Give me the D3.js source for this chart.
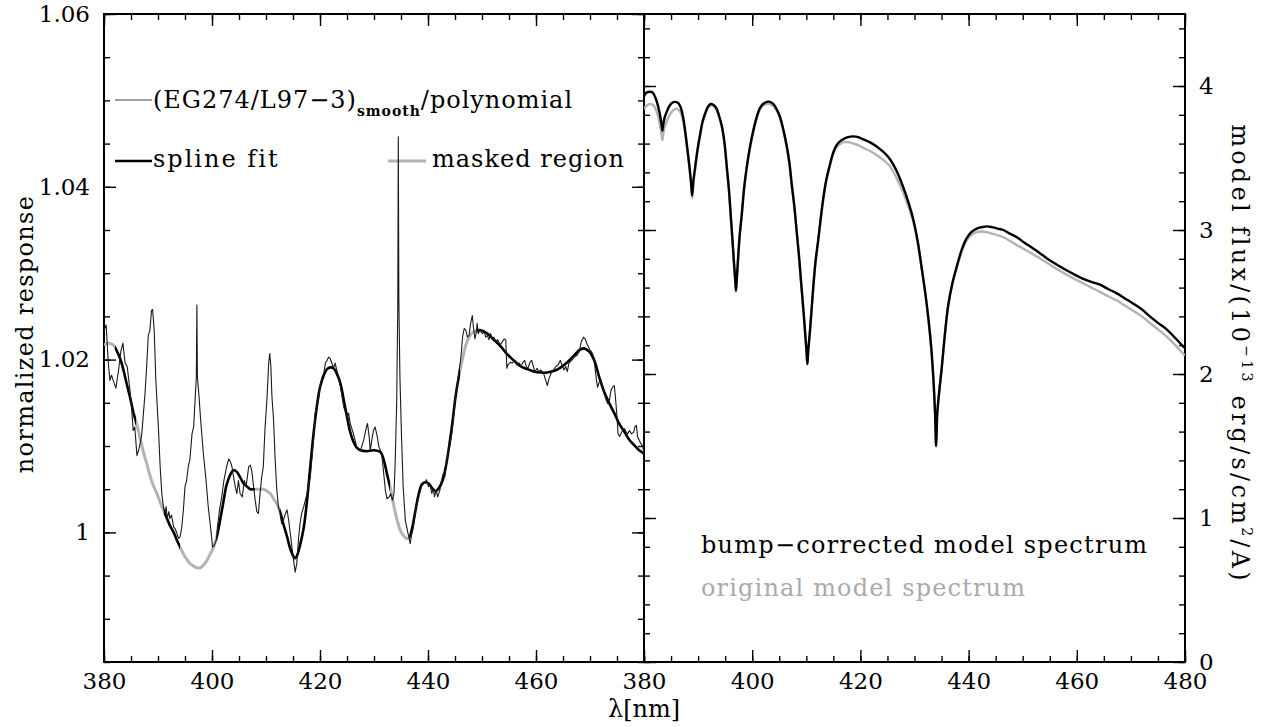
<!DOCTYPE html>
<html><head><meta charset="utf-8">
<script src="https://cdn.jsdelivr.net/npm/d3@7"></script>
<style>
body{margin:0;background:#fff;}
svg{display:block;}
text{white-space:pre;}
</style></head><body>
<svg id="chart" width="1261" height="727"></svg>
<script>
// ---------- DATA ----------
// left panel: (EG274/L97-3)_smooth / polynomial  (thin noisy line)
const respWave = [380.0,380.4,380.8,381.1,381.4,381.7,382.2,382.7,383.1,383.5,383.9,384.3,384.8,385.1,385.4,385.7,386.1,386.4,386.7,387.0,387.3,387.6,387.9,388.2,388.5,388.8,389.0,389.3,389.6,390.1,390.4,390.7,391.0,391.3,391.5,391.7,392.0,392.2,392.5,392.9,393.2,393.5,393.8,394.1,394.4,394.7,395.0,395.3,395.6,395.9,396.3,396.6,396.9,397.1,397.2,397.3,397.6,397.9,398.4,398.9,399.3,399.8,400.1,400.4,400.8,401.0,401.4,401.8,402.2,402.7,403.1,403.4,403.7,404.0,404.3,404.6,404.9,405.2,405.6,406.0,406.3,406.8,407.1,407.4,407.7,408.0,408.3,408.6,408.9,409.2,409.5,409.8,410.2,410.5,410.7,410.9,411.1,411.4,411.7,412.0,412.3,412.6,412.9,413.2,413.6,413.9,414.2,414.5,414.8,415.1,415.4,415.7,416.0,416.3,416.6,417.0,417.6,418.2,418.8,419.1,419.4,419.7,420.0,420.4,420.7,421.0,421.3,421.6,421.9,422.2,422.5,422.8,423.1,423.4,423.8,424.4,425.0,425.3,425.6,426.2,426.8,427.5,428.1,428.6,428.8,429.1,429.3,429.6,429.9,430.2,430.6,430.9,431.2,431.5,431.8,432.1,432.4,432.8,433.1,433.4,433.7,433.9,434.2,434.4,434.5,434.6,434.8,435.1,435.4,435.8,436.3,436.7,436.9,437.3,437.7,438.1,438.6,438.9,439.4,439.7,440.1,440.4,440.7,441.0,441.2,441.5,441.8,442.2,442.5,442.8,443.1,443.5,443.7,444.1,444.4,444.8,445.2,445.6,446.1,446.4,446.7,447.0,447.3,447.6,447.9,448.2,448.4,448.7,448.9,449.1,449.3,449.6,450.1,450.4,450.7,451.0,451.3,451.6,451.9,452.2,452.5,452.9,453.4,453.8,454.1,454.4,454.6,454.8,455.3,455.6,456.1,456.4,456.9,457.2,457.6,457.9,458.2,458.5,458.9,459.2,459.5,459.8,460.2,460.5,460.9,461.4,461.8,462.1,462.4,462.8,463.2,463.7,464.1,464.5,464.8,465.2,465.5,465.8,466.1,466.6,467.1,467.6,468.0,468.4,468.8,469.1,469.4,469.7,470.0,470.3,470.7,470.9,471.2,471.4,471.7,472.0,472.3,472.6,473.0,473.3,473.6,473.9,474.2,474.5,474.7,475.0,475.2,475.5,475.7,476.0,476.4,476.7,477.0,477.3,477.7,478.1,478.3,478.6,478.8,479.1,479.4,479.8,480.0];
const respValue = [1.0234,1.0240,1.0196,1.0176,1.0182,1.0176,1.0167,1.0188,1.0209,1.0219,1.0196,1.0192,1.0165,1.0145,1.0118,1.0122,1.0089,1.0095,1.0103,1.0114,1.0138,1.0161,1.0192,1.0228,1.0234,1.0257,1.0258,1.0234,1.0176,1.0118,1.0076,1.0045,1.0030,1.0022,1.0030,1.0016,1.0024,1.0016,1.0020,1.0006,1.0004,0.9999,0.9993,0.9995,1.0006,1.0026,1.0053,1.0060,1.0076,1.0084,1.0114,1.0122,1.0157,1.0180,1.0263,1.0180,1.0157,1.0130,1.0091,1.0060,1.0030,1.0002,0.9983,0.9985,0.9991,1.0006,1.0026,1.0041,1.0060,1.0076,1.0085,1.0082,1.0076,1.0064,1.0053,1.0045,1.0060,1.0045,1.0041,1.0060,1.0053,1.0076,1.0078,1.0070,1.0053,1.0037,1.0024,1.0022,1.0045,1.0064,1.0076,1.0118,1.0157,1.0196,1.0207,1.0192,1.0157,1.0130,1.0084,1.0049,1.0030,1.0022,1.0010,1.0014,1.0022,1.0026,1.0014,0.9999,0.9983,0.9968,0.9954,0.9964,0.9991,1.0010,1.0022,1.0030,1.0045,1.0064,1.0107,1.0138,1.0145,1.0153,1.0168,1.0180,1.0184,1.0196,1.0199,1.0203,1.0201,1.0196,1.0190,1.0196,1.0188,1.0180,1.0168,1.0145,1.0134,1.0138,1.0126,1.0114,1.0099,1.0095,1.0107,1.0122,1.0126,1.0111,1.0095,1.0107,1.0118,1.0122,1.0111,1.0099,1.0095,1.0087,1.0068,1.0049,1.0039,1.0041,1.0045,1.0037,1.0045,1.0076,1.0150,1.0260,1.0458,1.0270,1.0180,1.0110,1.0053,1.0014,0.9999,0.9987,0.9995,1.0006,1.0026,1.0037,1.0049,1.0055,1.0057,1.0061,1.0053,1.0055,1.0045,1.0051,1.0041,1.0049,1.0041,1.0049,1.0060,1.0068,1.0064,1.0084,1.0091,1.0103,1.0114,1.0138,1.0161,1.0180,1.0203,1.0226,1.0236,1.0234,1.0226,1.0228,1.0242,1.0251,1.0238,1.0224,1.0230,1.0242,1.0230,1.0234,1.0230,1.0232,1.0226,1.0228,1.0223,1.0230,1.0223,1.0226,1.0221,1.0223,1.0217,1.0221,1.0224,1.0223,1.0190,1.0194,1.0197,1.0196,1.0199,1.0194,1.0196,1.0192,1.0197,1.0199,1.0192,1.0190,1.0197,1.0199,1.0192,1.0186,1.0190,1.0186,1.0188,1.0184,1.0176,1.0170,1.0178,1.0184,1.0188,1.0192,1.0194,1.0199,1.0194,1.0188,1.0192,1.0186,1.0196,1.0199,1.0203,1.0205,1.0209,1.0221,1.0226,1.0224,1.0219,1.0215,1.0211,1.0209,1.0203,1.0192,1.0176,1.0168,1.0174,1.0176,1.0170,1.0161,1.0153,1.0149,1.0153,1.0165,1.0168,1.0170,1.0157,1.0134,1.0114,1.0111,1.0114,1.0118,1.0120,1.0116,1.0114,1.0118,1.0114,1.0116,1.0122,1.0124,1.0111,1.0107,1.0103,1.0099,1.0091];

// left panel: spline fit (thick)
const splineWave = [380.0,380.8,381.7,382.3,383.0,383.6,384.2,384.8,385.4,386.1,386.7,387.3,387.9,388.5,389.1,389.8,390.4,391.0,391.6,392.2,392.9,393.5,394.1,394.7,395.3,395.9,396.6,397.2,397.8,398.4,399.0,399.6,400.3,400.9,401.5,402.1,402.7,403.4,404.0,404.6,405.2,405.8,406.5,407.1,407.7,408.3,408.9,409.5,410.2,410.8,411.4,412.0,412.6,413.2,413.9,414.5,415.1,415.4,415.8,416.3,417.0,417.6,418.2,418.8,419.4,420.0,420.7,421.3,421.9,422.5,423.1,423.8,424.4,425.0,425.6,426.2,426.8,427.5,428.7,429.9,431.2,431.8,432.4,433.1,433.7,434.3,434.9,435.5,436.0,436.5,437.1,437.7,438.3,438.9,439.6,440.2,440.8,441.4,442.0,442.7,443.3,443.9,444.5,445.1,445.7,446.4,447.0,447.6,448.2,448.8,449.8,451.0,452.2,453.5,454.7,455.9,457.2,458.4,459.7,460.9,462.1,463.4,464.6,465.8,467.1,468.0,468.9,469.9,470.8,471.7,472.6,473.6,474.5,475.4,476.4,477.3,478.2,479.1,480.0];
const splineValue = [1.0217,1.0219,1.0217,1.0211,1.0201,1.0188,1.0172,1.0157,1.0140,1.0124,1.0109,1.0093,1.0080,1.0066,1.0055,1.0045,1.0035,1.0026,1.0017,1.0008,1.0000,0.9991,0.9983,0.9975,0.9969,0.9964,0.9961,0.9959,0.9959,0.9962,0.9967,0.9974,0.9983,0.9995,1.0014,1.0035,1.0055,1.0067,1.0072,1.0070,1.0064,1.0057,1.0053,1.0050,1.0050,1.0050,1.0050,1.0050,1.0048,1.0045,1.0039,1.0033,1.0024,1.0010,0.9995,0.9981,0.9972,0.9970,0.9974,0.9985,1.0006,1.0037,1.0076,1.0114,1.0145,1.0168,1.0182,1.0189,1.0191,1.0190,1.0184,1.0172,1.0153,1.0134,1.0116,1.0105,1.0098,1.0095,1.0094,1.0095,1.0093,1.0084,1.0068,1.0049,1.0030,1.0014,1.0002,0.9996,0.9993,0.9994,1.0006,1.0026,1.0045,1.0056,1.0058,1.0056,1.0051,1.0048,1.0051,1.0060,1.0076,1.0099,1.0126,1.0157,1.0180,1.0201,1.0217,1.0226,1.0231,1.0233,1.0234,1.0230,1.0223,1.0215,1.0206,1.0199,1.0192,1.0189,1.0186,1.0185,1.0185,1.0187,1.0191,1.0197,1.0205,1.0211,1.0213,1.0209,1.0199,1.0180,1.0163,1.0149,1.0138,1.0126,1.0116,1.0107,1.0101,1.0095,1.0091];

// wavelength ranges where the spline is drawn as "masked region"
const maskedRanges = [[380.0,382.0],[386.0,391.0],[394.1,400.9],[408.0,412.6],[433.0,436.5],[446.0,449.0]];

// right panel: model spectra
const modelWave = [380.0,380.5,381.1,381.6,382.1,382.6,383.0,383.25,383.4,383.55,383.8,384.2,384.6,385.1,385.7,386.2,386.7,387.2,387.6,388.0,388.4,388.7,388.9,389.1,389.4,389.9,390.4,390.8,391.3,391.8,392.3,392.8,393.4,393.9,394.4,394.9,395.3,395.7,396.0,396.3,396.6,396.85,397.0,397.15,397.4,397.7,398.1,398.5,399.0,399.6,400.2,400.8,401.4,402.0,402.7,403.3,403.9,404.5,405.1,405.8,406.4,406.9,407.3,407.8,408.2,408.7,409.1,409.5,409.8,410.05,410.2,410.35,410.7,411.3,411.7,412.2,412.6,413.1,413.7,414.4,415.0,415.6,416.2,416.8,417.7,418.7,419.6,420.5,421.7,423.0,424.3,425.5,426.7,427.9,428.9,429.8,430.6,431.3,432.0,432.6,433.1,433.5,433.8,434.0,434.2,434.6,435.0,435.6,436.2,437.0,437.8,438.7,439.6,440.5,441.5,442.5,443.4,444.3,445.3,446.4,447.6,448.9,450.4,452.0,453.5,455.0,456.5,458.1,459.6,461.2,462.7,464.3,465.8,467.4,468.9,470.4,472.0,473.5,475.0,476.6,478.2,479.7,480.0];
const modelCorrected = [3.93,3.955,3.96,3.955,3.92,3.86,3.79,3.73,3.69,3.73,3.78,3.82,3.855,3.88,3.89,3.885,3.86,3.79,3.69,3.57,3.44,3.33,3.24,3.33,3.42,3.56,3.67,3.75,3.81,3.855,3.875,3.87,3.845,3.79,3.72,3.60,3.44,3.28,3.12,2.96,2.79,2.66,2.58,2.66,2.81,2.97,3.12,3.29,3.44,3.58,3.69,3.78,3.845,3.875,3.89,3.89,3.875,3.84,3.79,3.69,3.58,3.46,3.32,3.16,3.00,2.80,2.61,2.43,2.28,2.15,2.07,2.16,2.31,2.61,2.78,2.93,3.06,3.21,3.35,3.46,3.54,3.59,3.615,3.63,3.645,3.65,3.645,3.63,3.61,3.58,3.54,3.49,3.41,3.30,3.19,3.07,2.92,2.745,2.56,2.375,2.18,1.96,1.73,1.50,1.72,1.89,2.03,2.27,2.47,2.63,2.745,2.86,2.94,2.985,3.01,3.02,3.025,3.02,3.01,3.00,2.975,2.95,2.91,2.87,2.83,2.79,2.755,2.72,2.69,2.66,2.64,2.62,2.59,2.56,2.525,2.49,2.45,2.40,2.355,2.31,2.25,2.19,2.18];
const modelOriginal = [3.84,3.865,3.875,3.87,3.845,3.79,3.72,3.665,3.625,3.665,3.71,3.755,3.79,3.82,3.84,3.84,3.82,3.76,3.67,3.55,3.43,3.315,3.22,3.315,3.41,3.55,3.66,3.74,3.80,3.845,3.865,3.86,3.835,3.78,3.71,3.59,3.43,3.27,3.11,2.95,2.78,2.65,2.57,2.65,2.80,2.96,3.11,3.28,3.43,3.57,3.68,3.77,3.835,3.865,3.875,3.875,3.86,3.83,3.78,3.68,3.57,3.45,3.31,3.15,2.99,2.79,2.60,2.42,2.27,2.145,2.065,2.155,2.30,2.60,2.77,2.92,3.05,3.20,3.34,3.45,3.53,3.575,3.595,3.61,3.61,3.60,3.59,3.57,3.55,3.52,3.485,3.44,3.36,3.26,3.16,3.05,2.905,2.735,2.555,2.37,2.175,1.955,1.725,1.495,1.715,1.885,2.025,2.265,2.465,2.625,2.735,2.845,2.925,2.965,2.985,2.99,2.985,2.975,2.965,2.95,2.925,2.895,2.865,2.83,2.795,2.76,2.725,2.69,2.66,2.63,2.60,2.57,2.54,2.51,2.475,2.44,2.40,2.355,2.31,2.26,2.20,2.14,2.13];

// ticks
const xTicksLeft = [380,400,420,440,460];
const xTicksRight = [380,400,420,440,460,480];
const yTicksLeft = [1,1.02,1.04,1.06];
const yTickLabelsLeft = ["1","1.02","1.04","1.06"];
const yTicksRight = [0,1,2,3,4];
const yTickLabelsRight = ["0","1","2","3","4"];

// ---------- DRAWING ----------
const FONT = '"DejaVu Serif", serif';
const svg = d3.select('#chart');
const xL = d3.scaleLinear().domain([380,480]).range([104,644]);
const yL = d3.scaleLinear().domain([0.985,1.06]).range([662,14]);
const xR = d3.scaleLinear().domain([380,480]).range([644,1185]);
const yR = d3.scaleLinear().domain([0,4.5]).range([662,14]);

const minorX = d3.range(0,21).map(i=>380+5*i);
const minorYL = d3.range(0,16).map(i=>0.985+0.005*i);
const minorYR = d3.range(0,23).map(i=>0.2*i);
const none = () => '';

function addAxis(axis, tx, ty){
  const g = svg.append('g').attr('transform',`translate(${tx},${ty})`).call(axis);
  g.select('.domain').remove();
  g.attr('font-family', FONT).attr('font-size', 23);
  g.selectAll('line').attr('stroke','#000').attr('stroke-width',1.4);
  g.selectAll('text').attr('fill','#000');
  return g;
}
function axesFor(x, y, xMajor, yMajor, yLabels, leftLabels, rightLabels){
  const [xa, xb] = x.range();
  const yb = y.range()[0], ya = y.range()[1];
  const minorY = (y === yL) ? minorYL : minorYR;
  addAxis(d3.axisBottom(x).tickValues(xMajor).tickFormat(d3.format('d')).tickSizeInner(-12).tickSizeOuter(0).tickPadding(10.5), 0, yb);
  addAxis(d3.axisBottom(x).tickValues(minorX).tickFormat(none).tickSizeInner(-6).tickSizeOuter(0), 0, yb);
  addAxis(d3.axisTop(x).tickValues(xMajor).tickFormat(none).tickSizeInner(-12).tickSizeOuter(0), 0, ya);
  addAxis(d3.axisTop(x).tickValues(minorX).tickFormat(none).tickSizeInner(-6).tickSizeOuter(0), 0, ya);
  addAxis(d3.axisLeft(y).tickValues(yMajor).tickFormat(leftLabels ? (d,i)=>yLabels[i] : none).tickSizeInner(-12).tickSizeOuter(0).tickPadding(14), xa, 0);
  addAxis(d3.axisLeft(y).tickValues(minorY).tickFormat(none).tickSizeInner(-6).tickSizeOuter(0), xa, 0);
  addAxis(d3.axisRight(y).tickValues(yMajor).tickFormat(rightLabels ? (d,i)=>yLabels[i] : none).tickSizeInner(-12).tickSizeOuter(0).tickPadding(14), xb, 0);
  addAxis(d3.axisRight(y).tickValues(minorY).tickFormat(none).tickSizeInner(-6).tickSizeOuter(0), xb, 0);
  svg.append('rect').attr('x',xa).attr('y',ya).attr('width',xb-xa).attr('height',yb-ya)
     .attr('fill','none').attr('stroke','#000').attr('stroke-width',2);
}
axesFor(xL, yL, xTicksLeft, yTicksLeft, yTickLabelsLeft, true, false);
axesFor(xR, yR, xTicksRight, yTicksRight, yTickLabelsRight, false, true);

function fitText(sel, target){
  const n = sel.node();
  const nat = n.getComputedTextLength();
  const c = n.textContent.length;
  sel.attr('letter-spacing', ((target - nat)/(c-1)).toFixed(2));
}
function txt(x, y, s, size, fill){
  return svg.append('text').attr('x',x).attr('y',y).attr('font-family',FONT)
    .attr('font-size',size).attr('fill',fill||'#000').text(s);
}

// legend (left)
svg.append('line').attr('x1',115).attr('x2',152).attr('y1',100).attr('y2',100).attr('stroke','#444').attr('stroke-width',1.2);
const t1 = svg.append('text').attr('x',153).attr('y',108).attr('font-family',FONT).attr('font-size',24);
t1.append('tspan').text('(EG274/L97−3)');
t1.append('tspan').attr('font-size',14).attr('font-weight','bold').attr('dy',8).text('smooth');
t1.append('tspan').attr('dy',-8).text('/polynomial');
fitText(t1, 419);
svg.append('line').attr('x1',115).attr('x2',152).attr('y1',161).attr('y2',161).attr('stroke','#000').attr('stroke-width',2.6);
fitText(txt(153,167,'spline fit',24), 124);
svg.append('line').attr('x1',388).attr('x2',426).attr('y1',161).attr('y2',161).attr('stroke','#b3b3b3').attr('stroke-width',3);
fitText(txt(432,167,'masked region',24), 192);

// legend (right)
fitText(txt(701,553,'bump−corrected model spectrum',24), 446);
fitText(txt(701,596,'original model spectrum',24,'#aaaaaa'), 324);

// axis titles
const tl = svg.append('text').attr('transform','translate(33,334) rotate(-90)').attr('text-anchor','middle')
  .attr('font-family',FONT).attr('font-size',24).text('normalized response');
fitText(tl, 277);
svg.append('text').attr('x',644).attr('y',717).attr('text-anchor','middle')
  .attr('font-family',FONT).attr('font-size',24).text('λ[nm]');
const tr = svg.append('text').attr('transform','translate(1232,354) rotate(90)').attr('text-anchor','middle')
  .attr('font-family',FONT).attr('font-size',24);
tr.append('tspan').text('model flux/(10');
tr.append('tspan').attr('font-size',14).attr('dy',-10).text('−13');
tr.append('tspan').attr('dy',10).text(' erg/s/cm');
tr.append('tspan').attr('font-size',14).attr('dy',-10).text('2');
tr.append('tspan').attr('dy',10).text('/A)');
fitText(tr, 456);

// clip paths
const defs = svg.append('defs');
defs.append('clipPath').attr('id','clipL').append('rect').attr('x',104).attr('y',14).attr('width',540).attr('height',648);
defs.append('clipPath').attr('id','clipR').append('rect').attr('x',644).attr('y',14).attr('width',541).attr('height',648);
const cm = defs.append('clipPath').attr('id','clipMask');
const cu = defs.append('clipPath').attr('id','clipUnmask');
let prev = 380;
maskedRanges.forEach(([a,b]) => {
  cm.append('rect').attr('x',xL(a)).attr('y',14).attr('width',xL(b)-xL(a)).attr('height',648);
  if (a > prev) cu.append('rect').attr('x',xL(prev)).attr('y',14).attr('width',xL(a)-xL(prev)).attr('height',648);
  prev = b;
});
if (prev < 480) cu.append('rect').attr('x',xL(prev)).attr('y',14).attr('width',xL(480)-xL(prev)).attr('height',648);

// left data
const splinePts = splineWave.map((w,i)=>[w, splineValue[i]]);
const respPts = respWave.map((w,i)=>[w, respValue[i]]);
const lineL = d3.line().x(d=>xL(d[0])).y(d=>yL(d[1]));
const smoothL = d3.line().x(d=>xL(d[0])).y(d=>yL(d[1])).curve(d3.curveCatmullRom.alpha(0.5));
svg.append('path').attr('d', smoothL(splinePts)).attr('fill','none').attr('stroke','#000')
  .attr('stroke-width',2.6).attr('clip-path','url(#clipUnmask)');
svg.append('path').attr('d', smoothL(splinePts)).attr('fill','none').attr('stroke','#b3b3b3')
  .attr('stroke-width',3).attr('clip-path','url(#clipMask)');
svg.append('g').attr('clip-path','url(#clipL)').append('path').attr('d', lineL(respPts))
  .attr('fill','none').attr('stroke','#1a1a1a').attr('stroke-width',1.1).attr('stroke-linejoin','round');

// right data
const smoothR = d3.line().x(d=>xR(d[0])).y(d=>yR(d[1])).curve(d3.curveCatmullRom.alpha(0.5));
const gR = svg.append('g').attr('clip-path','url(#clipR)');
gR.append('path').attr('d', smoothR(modelWave.map((w,i)=>[w, modelOriginal[i]])))
  .attr('fill','none').attr('stroke','#b3b3b3').attr('stroke-width',2.4);
gR.append('path').attr('d', smoothR(modelWave.map((w,i)=>[w, modelCorrected[i]])))
  .attr('fill','none').attr('stroke','#000').attr('stroke-width',2.4);
</script>
</body></html>
